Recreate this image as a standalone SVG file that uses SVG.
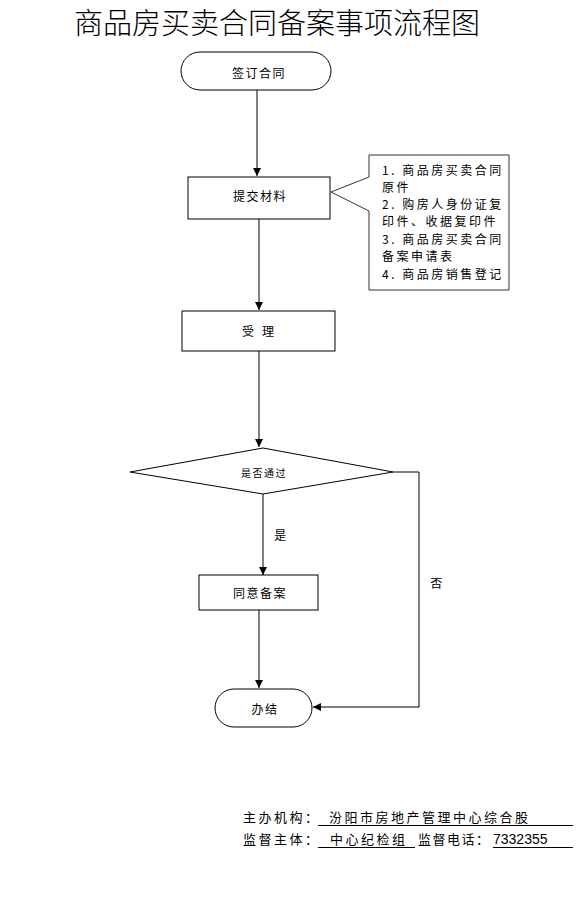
<svg xmlns="http://www.w3.org/2000/svg" width="584" height="904" viewBox="0 0 584 904">
<style>
.s{fill:#fff;stroke:#000;stroke-width:1}
.t{font-family:"Noto Sans CJK SC","Noto Sans CJK JP",sans-serif;font-size:12px;fill:#000;text-anchor:middle;dominant-baseline:central;letter-spacing:1.5px}
.c{font-family:"Noto Sans CJK SC","Noto Sans CJK JP",sans-serif;font-size:12px;fill:#000;letter-spacing:2.5px}
.f{font-family:"Noto Sans CJK SC","Noto Sans CJK JP",sans-serif;font-size:13px;fill:#000;letter-spacing:2.5px}
.l{fill:none;stroke:#000;stroke-width:1}
</style>
<defs>
<marker id="a" viewBox="0 0 10 10" refX="10" refY="5" markerWidth="8" markerHeight="8" markerUnits="userSpaceOnUse" orient="auto">
<path d="M0,0 L10,5 L0,10 z" fill="#000"/>
</marker>
</defs>
<rect width="584" height="904" fill="#fff"/>
<text x="277" y="21" style="font-family:'Noto Sans CJK SC',sans-serif;font-size:29px;font-weight:300;fill:#000;text-anchor:middle;dominant-baseline:central">商品房买卖合同备案事项流程图</text>
<g id="connectors">
<line class="l" x1="257" y1="90" x2="257" y2="176" marker-end="url(#a)"/>
<line class="l" x1="259" y1="219" x2="259" y2="310" marker-end="url(#a)"/>
<line class="l" x1="259" y1="351" x2="259" y2="447" marker-end="url(#a)"/>
<line class="l" x1="263" y1="494" x2="263" y2="575" marker-end="url(#a)"/>
<line class="l" x1="259" y1="610" x2="259" y2="688" marker-end="url(#a)"/>
<polyline class="l" points="393,472 419,472 419,707 313,707" marker-end="url(#a)"/>
<text class="t" x="281" y="534">是</text>
<text class="t" x="437" y="582">否</text>
</g>
<g id="start">
<rect class="s" x="181" y="52" width="150" height="38" rx="19" ry="19"/>
<text class="t" x="259" y="72">签订合同</text>
</g>
<g id="submit">
<rect class="s" x="188" y="177" width="142" height="42"/>
<text class="t" x="260" y="195">提交材料</text>
</g>
<g id="callout">
<path d="M369,155 H509 V290 H369 V211 L331,192 L369,177 Z" fill="#fff" stroke="#333" stroke-width="1"/>
<text class="c" x="382" y="175">1. 商品房买卖合同</text>
<text class="c" x="382" y="192">原件</text>
<text class="c" x="382" y="209">2. 购房人身份证复</text>
<text class="c" x="382" y="226">印件、收据复印件</text>
<text class="c" x="382" y="244">3. 商品房买卖合同</text>
<text class="c" x="382" y="261">备案申请表</text>
<text class="c" x="382" y="279">4. 商品房销售登记</text>
</g>
<g id="accept">
<rect class="s" x="182" y="311" width="153" height="40"/>
<text class="t" x="262" y="330" style="letter-spacing:8px">受理</text>
</g>
<g id="decision">
<polygon class="s" points="130,472 263,448 393,472 263,494"/>
<text class="t" x="264" y="472" style="font-size:10px;letter-spacing:1.5px">是否通过</text>
</g>
<g id="agree">
<rect class="s" x="199" y="575" width="119" height="35"/>
<text class="t" x="260" y="592">同意备案</text>
</g>
<g id="end">
<rect class="s" x="215" y="689" width="97" height="38" rx="19" ry="19"/>
<text class="t" x="265" y="708">办结</text>
</g>
<g id="footer">
<text class="f" x="243" y="822">主办机构：</text>
<text class="f" x="329" y="822">汾阳市房地产管理中心综合股</text>
<line class="l" x1="318" y1="825.5" x2="573" y2="825.5"/>
<text class="f" x="243" y="844">监督主体：</text>
<text class="f" x="330" y="844">中心纪检组</text>
<line class="l" x1="318" y1="847.5" x2="415" y2="847.5"/>
<text class="f" x="418" y="844" style="letter-spacing:1.5px">监督电话：</text>
<text x="493" y="844" style="font-family:'Liberation Sans',sans-serif;font-size:14px;fill:#000">7332355</text>
<line class="l" x1="493" y1="847.5" x2="573" y2="847.5"/>
</g>
</svg>
